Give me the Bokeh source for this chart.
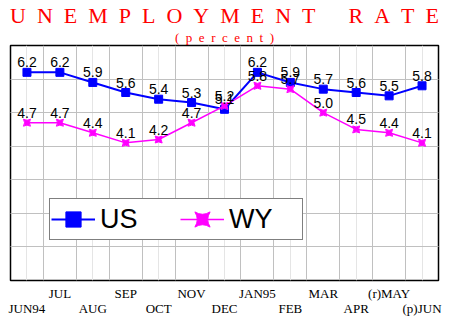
from bokeh.plotting import figure
from bokeh.models import (ColumnDataSource, Range1d, FixedTicker, LinearAxis, Grid,
                          Legend, LegendItem, Title, LabelSet)
from bokeh.core.properties import value
from bokeh.embed import file_html
from bokeh.resources import INLINE

# ---- data ----
months = ["JUN94", "JUL", "AUG", "SEP", "OCT", "NOV", "DEC",
          "JAN95", "FEB", "MAR", "APR", "(r)MAY", "(p)JUN"]
us_rate = [6.2, 6.2, 5.9, 5.6, 5.4, 5.3, 5.1, 6.2, 5.9, 5.7, 5.6, 5.5, 5.8]
wy_rate = [4.7, 4.7, 4.4, 4.1, 4.2, 4.7, 5.2, 5.8, 5.7, 5.0, 4.5, 4.4, 4.1]
y_ticks = [1, 2, 3, 4, 5, 6]

idx = list(range(len(months)))
src = ColumnDataSource(dict(
    x=idx, us=us_rate, wy=wy_rate,
    us_txt=[f"{v:.1f}" for v in us_rate],
    wy_txt=[f"{v:.1f}" for v in wy_rate],
))

p = figure(frame_width=428, frame_height=235, output_backend="svg", toolbar_location=None,
           x_range=Range1d(-0.5, len(months) - 0.5), y_range=Range1d(0, 7),
           x_axis_location=None, y_axis_location=None,
           min_border_left=10, min_border_right=22, min_border_top=45, min_border_bottom=40,
           background_fill_color="white", border_fill_color="white")
p.outline_line_color = "black"
p.outline_line_width = 1.5

# grids: vertical lines between months, horizontal every 1 unit
p.add_layout(Grid(dimension=0, ticker=FixedTicker(ticks=[i + 0.5 for i in idx[:-1]]),
                  grid_line_color="#c0c0c0", grid_line_width=1))
p.add_layout(Grid(dimension=1, ticker=FixedTicker(ticks=y_ticks),
                  grid_line_color="#c0c0c0", grid_line_width=1))

# staggered month labels on two axes
def month_axis(ticks, standoff):
    ax = LinearAxis(ticker=FixedTicker(ticks=ticks),
                    major_label_overrides={i: months[i] for i in ticks})
    ax.axis_line_color = None
    ax.major_tick_line_color = None
    ax.minor_tick_line_color = None
    ax.major_tick_out = 0
    ax.major_tick_in = 0
    ax.major_label_standoff = standoff
    ax.major_label_text_font = "Liberation Serif"
    ax.major_label_text_font_size = "13px"
    ax.major_label_text_color = "black"
    return ax

p.add_layout(month_axis(idx[1::2], 5), "below")
p.add_layout(month_axis(idx[0::2], -3), "below")

# series
us_line = p.line("x", "us", source=src, line_color="#0000ff", line_width=2)
us_pts = p.scatter("x", "us", source=src, marker="square", size=8,
                   fill_color="#0000ff", line_color="#0000ff")
wy_line = p.line("x", "wy", source=src, line_color="#ff00ff", line_width=1.5)
wy_pts = p.scatter("x", "wy", source=src, marker="square_pin", size=7,
                   fill_color="#ff00ff", line_color="#ff00ff")

# value labels
for col, txt in (("us", "us_txt"), ("wy", "wy_txt")):
    p.add_layout(LabelSet(x="x", y=col, text=txt, source=src, y_offset=5,
                          text_align="center", text_baseline="alphabetic",
                          text_font=value("Liberation Sans"), text_font_size="14px",
                          text_color="black"))

# legend
legend = Legend(items=[LegendItem(label="US", renderers=[us_line, us_pts]),
                       LegendItem(label="WY", renderers=[wy_line, wy_pts])],
                orientation="horizontal", location=(39, 40), margin=0,
                padding=1, spacing=8, label_standoff=5, label_width=72,
                glyph_width=44, glyph_height=38,
                label_text_font="Liberation Sans", label_text_font_size="27px",
                label_text_color="black",
                border_line_color="black", border_line_width=1.2,
                background_fill_color="white", background_fill_alpha=1)
p.add_layout(legend)

# titles
sp = "\u2002"
title_text = sp.join("UNEMPLOYMENT") + "\u2003\u2002" + sp.join("RATE")
p.add_layout(Title(text=sp.join("(percent)"), align="center", offset=-12, standoff=1,
                   text_font="Liberation Serif", text_font_size="13px",
                   text_font_style="normal", text_color="#ff0000"), "above")
p.add_layout(Title(text=title_text, align="center", standoff=0, offset=-1,
                   text_font="Liberation Serif", text_font_size="22px",
                   text_font_style="normal", text_color="#ff0000"), "above")

open("out.html", "w").write(file_html(p, INLINE))
